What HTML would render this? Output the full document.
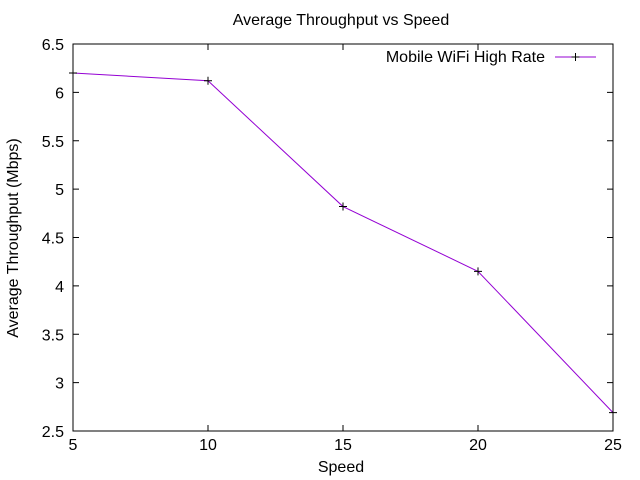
<!DOCTYPE html>
<html><head><meta charset="utf-8"><style>
body{margin:0;background:#fff;}
svg{display:block;font-family:"Liberation Sans",sans-serif;}
</style></head><body>
<svg id="chart" width="640" height="480">
<text x="341" y="25" font-size="16" text-anchor="middle">Average Throughput vs Speed</text>
<rect x="73" y="44" width="540" height="387" fill="none" stroke="#000"/>
<g id="ticks"></g>
<text x="341" y="472" font-size="16" text-anchor="middle">Speed</text>
<text transform="translate(18,238) rotate(-90)" font-size="16" text-anchor="middle">Average Throughput (Mbps)</text>
<g>
<text x="545" y="62" font-size="16" text-anchor="end">Mobile WiFi High Rate</text>
<line x1="555" y1="57" x2="596" y2="57" stroke="#9400d3"/>
<path d="M571.5,57h8M575.5,53v8" stroke="#000"/>
</g>
<g id="series"></g>
</svg>
<script>
const categories=[5,10,15,20,25];
const throughput=[6.2,6.12,4.82,4.15,2.69];
const xTicks=[5,10,15,20,25];
const yTicks=[2.5,3,3.5,4,4.5,5,5.5,6,6.5];
const NS="http://www.w3.org/2000/svg";
const X=v=>73+(v-5)/20*540;
const Y=v=>431-(v-2.5)/4*387;
const t=document.getElementById('ticks');
function mk(tag,attrs,parent){const e=document.createElementNS(NS,tag);for(const k in attrs)e.setAttribute(k,attrs[k]);parent.appendChild(e);return e;}
xTicks.forEach(v=>{
 const g=mk('g',{},t);
 
 
 mk('path',{d:`M${X(v)},431v-6M${X(v)},44v6`,stroke:'#000'},g);
 const tx=mk('text',{x:X(v),y:450,'font-size':16,'text-anchor':'middle'},g);tx.textContent=v;
});
yTicks.forEach(v=>{
 const g=mk('g',{},t);
 
 
 mk('path',{d:`M73,${Y(v)}h6M613,${Y(v)}h-6`,stroke:'#000'},g);
 const tx=mk('text',{x:64,y:Y(v)+6,'font-size':16,'text-anchor':'end'},g);tx.textContent=v;
});
const s=document.getElementById('series');
const line=mk('polyline',{points:categories.map((c,i)=>X(c)+','+Y(throughput[i])).join(' '),fill:'none',stroke:'#9400d3'},s);


categories.forEach((c,i)=>{
 const p=mk('path',{d:`M${X(c)-4},${Y(throughput[i])}h8M${X(c)},${Y(throughput[i])-4}v8`,stroke:'#000'},s);
 
 
});
</script>
</body></html>
